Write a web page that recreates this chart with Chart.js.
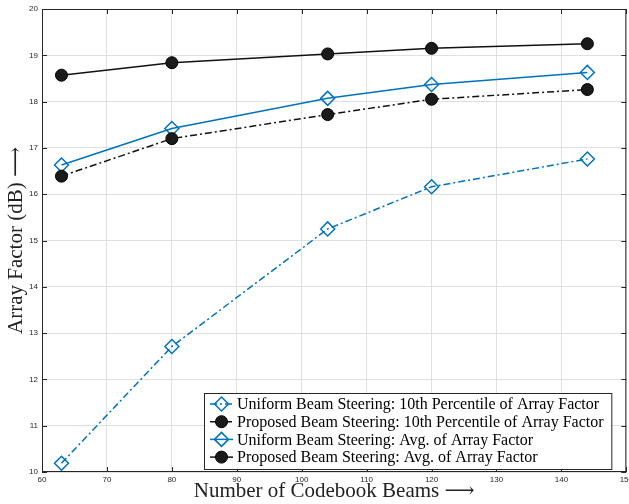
<!DOCTYPE html>
<html>
<head>
<meta charset="utf-8">
<script src="https://cdn.jsdelivr.net/npm/chart.js@4/dist/chart.umd.min.js"></script>
<style>
    html, body { margin: 0; padding: 0; background: #fff; overflow: hidden; }
    #wrap { width: 629px; height: 504px; overflow: hidden; }
</style>
</head>
<body>
<div id="wrap"><canvas id="afChart" width="636" height="504"></canvas></div>
<script>
// Data
const beams = [63, 80, 104, 120, 144];
const uniform10th = [10.19, 12.71, 15.25, 16.16, 16.76];
const proposed10th = [16.39, 17.20, 17.72, 18.05, 18.26];
const uniformAvg = [16.63, 17.42, 18.07, 18.37, 18.63];
const proposedAvg = [18.57, 18.84, 19.03, 19.15, 19.25];
const seriesLabels = [
    'Uniform Beam Steering: 10th Percentile of Array Factor',
    'Proposed Beam Steering: 10th Percentile of Array Factor',
    'Uniform Beam Steering: Avg. of Array Factor',
    'Proposed Beam Steering: Avg. of Array Factor'
];
const xTicks = [60, 70, 80, 90, 100, 110, 120, 130, 140, 150];
const yTicks = [10, 11, 12, 13, 14, 15, 16, 17, 18, 19, 20];

const BLUE = '#0072BD';
const DARK = '#111111';
const AXIS = '#262626';
const DASHDOT = [7, 3, 2, 3];
const SERIF = '"Liberation Serif", "DejaVu Serif", serif';

function toPoints(ys) {
    return beams.map((x, i) => ({ x: x, y: ys[i] }));
}

function diamondSet(label, ys, dash) {
    return {
        label: label,
        data: toPoints(ys),
        borderColor: BLUE,
        borderWidth: 1.5,
        borderDash: dash,
        pointStyle: 'rectRot',
        pointRadius: 7,
        pointBorderWidth: 1.5,
        pointBorderColor: BLUE,
        pointBackgroundColor: 'rgba(255,255,255,0)',
        tension: 0
    };
}

function circleSet(label, ys, dash) {
    return {
        label: label,
        data: toPoints(ys),
        borderColor: DARK,
        borderWidth: 1.5,
        borderDash: dash,
        pointStyle: 'circle',
        pointRadius: 6,
        pointBorderWidth: 1,
        pointBorderColor: '#000',
        pointBackgroundColor: '#1a1a1a',
        tension: 0
    };
}

// MATLAB-style box with inward ticks on all four sides
const boxPlugin = {
    id: 'boxPlugin',
    afterDatasetsDraw(chart) {
        const { ctx, chartArea: a, scales } = chart;
        ctx.save();
        ctx.strokeStyle = AXIS;
        ctx.lineWidth = 1;
        ctx.setLineDash([]);
        ctx.strokeRect(a.left + 0.5, a.top + 0.5, a.right - a.left - 1, a.bottom - a.top - 1);
        const len = 5;
        ctx.beginPath();
        xTicks.forEach(v => {
            const px = Math.round(scales.x.getPixelForValue(v)) + 0.5;
            ctx.moveTo(px, a.bottom); ctx.lineTo(px, a.bottom - len);
            ctx.moveTo(px, a.top); ctx.lineTo(px, a.top + len);
        });
        yTicks.forEach(v => {
            const py = Math.round(scales.y.getPixelForValue(v)) + 0.5;
            ctx.moveTo(a.left, py); ctx.lineTo(a.left + len, py);
            ctx.moveTo(a.right, py); ctx.lineTo(a.right - len, py);
        });
        ctx.stroke();
        ctx.restore();
    }
};

// Legend box in the lower right corner
const legendPlugin = {
    id: 'legendBox',
    afterDraw(chart) {
        const { ctx, chartArea: a } = chart;
        const box = { left: 204, top: 393, right: a.right - 15, bottom: a.bottom - 3 };
        ctx.save();
        ctx.fillStyle = '#fff';
        ctx.fillRect(box.left, box.top, box.right - box.left, box.bottom - box.top);
        ctx.strokeStyle = AXIS;
        ctx.lineWidth = 1;
        ctx.strokeRect(box.left + 0.5, box.top + 0.5, box.right - box.left, box.bottom - box.top);

        ctx.font = '16px ' + SERIF;
        ctx.textBaseline = 'middle';
        const rowH = 17.7;
        chart.data.datasets.forEach((ds, i) => {
            const y = box.top + 11 + i * rowH;
            const x0 = box.left + 6, x1 = box.left + 29, xm = (x0 + x1) / 2;
            ctx.strokeStyle = ds.borderColor;
            ctx.lineWidth = 1.5;
            ctx.setLineDash(ds.borderDash || []);
            ctx.beginPath();
            ctx.moveTo(x0, y); ctx.lineTo(x1, y);
            ctx.stroke();
            ctx.setLineDash([]);
            ctx.strokeStyle = ds.pointBorderColor;
            ctx.fillStyle = ds.pointBackgroundColor;
            ctx.lineWidth = ds.pointBorderWidth;
            Chart.helpers.drawPoint(ctx, {
                pointStyle: ds.pointStyle,
                radius: ds.pointRadius,
                borderWidth: ds.pointBorderWidth,
                rotation: 0
            }, xm, y);
            ctx.fillStyle = '#000';
            ctx.fillText(seriesLabels[i], box.left + 33, y + 1);
        });
        ctx.restore();
    }
};

const ctx = document.getElementById('afChart');
new Chart(ctx, {
    type: 'line',
    data: {
        datasets: [
            diamondSet(seriesLabels[0], uniform10th, DASHDOT),
            circleSet(seriesLabels[1], proposed10th, DASHDOT),
            diamondSet(seriesLabels[2], uniformAvg, []),
            circleSet(seriesLabels[3], proposedAvg, [])
        ]
    },
    options: {
        responsive: false,
        animation: false,
        layout: { padding: { top: 9, right: 2, left: 0, bottom: 0 } },
        plugins: {
            legend: { display: false },
            tooltip: { enabled: false }
        },
        scales: {
            x: {
                type: 'linear',
                min: 60,
                max: 150,
                afterBuildTicks: s => { s.ticks = xTicks.map(v => ({ value: v })); },
                afterFit: s => { s.height = 32; },
                grid: { color: '#e0e0e0', drawTicks: false },
                border: { display: false },
                ticks: {
                    color: AXIS,
                    padding: 3,
                    maxRotation: 0,
                    font: { family: '"Liberation Sans", Arial, sans-serif', size: 8 }
                },
                title: {
                    display: true,
                    text: 'Number of Codebook Beams \u27F6',
                    color: '#222',
                    padding: { top: 0, bottom: 0 },
                    font: { family: SERIF, size: 21 }
                }
            },
            y: {
                type: 'linear',
                min: 10,
                max: 20,
                afterBuildTicks: s => { s.ticks = yTicks.map(v => ({ value: v })); },
                afterFit: s => { s.width = 42; },
                grid: { color: '#e0e0e0', drawTicks: false },
                border: { display: false },
                ticks: {
                    color: AXIS,
                    padding: 4,
                    font: { family: '"Liberation Sans", Arial, sans-serif', size: 8 }
                },
                title: {
                    display: true,
                    text: 'Array Factor (dB) \u27F6',
                    color: '#222',
                    padding: { top: 4, bottom: 0 },
                    font: { family: SERIF, size: 21 }
                }
            }
        }
    },
    plugins: [boxPlugin, legendPlugin]
});
</script>
</body>
</html>
